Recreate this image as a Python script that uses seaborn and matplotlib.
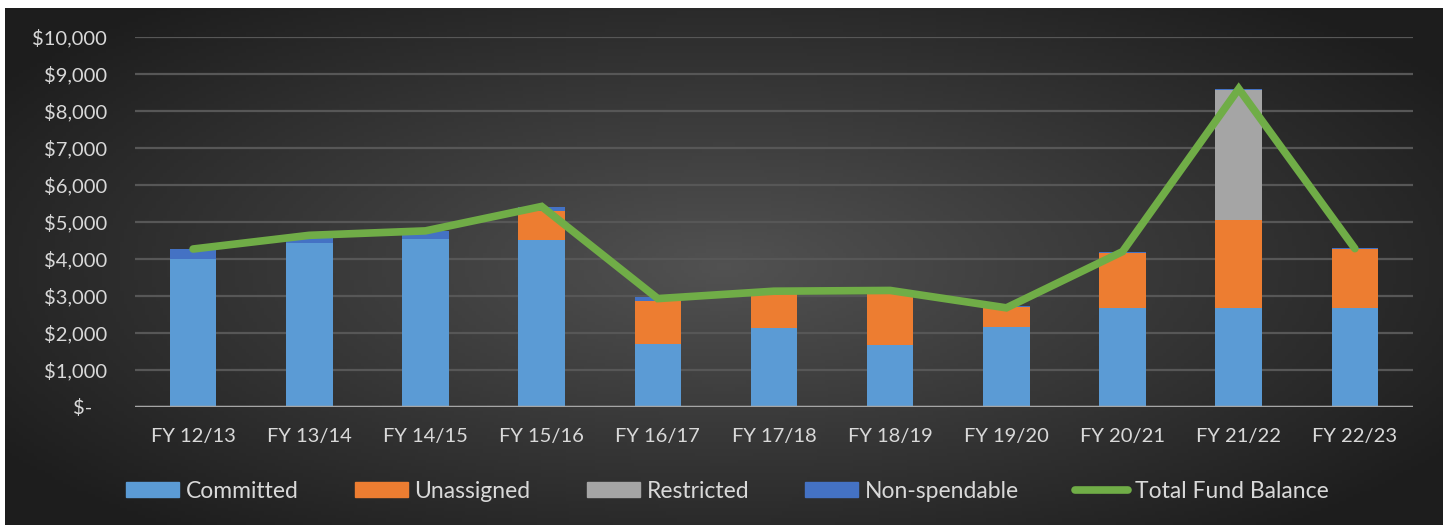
import seaborn as sns
import matplotlib.pyplot as plt
import matplotlib.patches as mpatches
import matplotlib.lines as mlines
import pandas as pd
import numpy as np

# Fund balance components (thousands of $)
years = ['FY 12/13', 'FY 13/14', 'FY 14/15', 'FY 15/16', 'FY 16/17', 'FY 17/18',
         'FY 18/19', 'FY 19/20', 'FY 20/21', 'FY 21/22', 'FY 22/23']
committed = [4000, 4440, 4540, 4510, 1700, 2140, 1670, 2160, 2680, 2680, 2680]
unassigned = [0, 0, 0, 790, 1160, 960, 1460, 530, 1470, 2370, 1590]
restricted = [0, 0, 0, 0, 0, 0, 0, 0, 0, 3520, 0]
non_spendable = [270, 200, 220, 100, 100, 20, 20, 30, 30, 20, 20]
total = [4270, 4640, 4760, 5420, 2930, 3130, 3150, 2680, 4200, 8600, 4280]
y_ticks = [0, 1000, 2000, 3000, 4000, 5000, 6000, 7000, 8000, 9000, 10000]
y_labels = ['$-   ', '$1,000', '$2,000', '$3,000', '$4,000', '$5,000',
            '$6,000', '$7,000', '$8,000', '$9,000', '$10,000']

colors = {'Committed': '#5b9bd5', 'Unassigned': '#ed7d31',
          'Restricted': '#a5a5a5', 'Non-spendable': '#4472c4'}
line_color = '#70ad47'
text_color = '#d9d9d9'

df = pd.DataFrame({'Year': years, 'Committed': committed, 'Unassigned': unassigned,
                   'Restricted': restricted, 'Non-spendable': non_spendable})
df['c1'] = df['Committed']
df['c2'] = df['c1'] + df['Unassigned']
df['c3'] = df['c2'] + df['Restricted']
df['c4'] = df['c3'] + df['Non-spendable']

sns.set_style("white")
plt.rcParams['font.family'] = ['Lato', 'DejaVu Sans']

fig = plt.figure(figsize=(14.49, 5.25), dpi=100, facecolor='white')

# dark radial-gradient background panel
bg = fig.add_axes([5 / 1449, 0, (1443 - 5) / 1449, (525 - 8) / 525])
gx, gy = np.meshgrid(np.linspace(-1, 1, 400), np.linspace(-1, 1, 150))
r = np.clip(np.sqrt(gx ** 2 + (gy * 0.9) ** 2), 0, 1.2)
shade = 0.32 - 0.17 * r
bg.imshow(np.dstack([shade, shade, shade]), aspect='auto', extent=[0, 1, 0, 1])
bg.set_axis_off()

ax = fig.add_axes([135 / 1449, 1 - 407 / 525, (1413 - 135) / 1449, (407 - 37) / 525])
ax.patch.set_alpha(0)

# stacked bars: draw cumulative totals from the top layer down
for col, name in [('c4', 'Non-spendable'), ('c3', 'Restricted'),
                  ('c2', 'Unassigned'), ('c1', 'Committed')]:
    sns.barplot(data=df, x='Year', y=col, color=colors[name], saturation=1,
                width=0.4, linewidth=0, ax=ax, zorder=3)

sns.lineplot(x=np.arange(len(years)), y=total, color=line_color, linewidth=5.5,
             ax=ax, zorder=5, solid_capstyle='round', solid_joinstyle='miter')

ax.set_xlim(-0.5, len(years) - 0.5)
ax.set_ylim(0, 10000)
ax.set_yticks(y_ticks)
ax.set_yticklabels(y_labels)
ax.set_xlabel('')
ax.set_ylabel('')
ax.tick_params(axis='y', length=0, pad=20, labelsize=14.5, labelcolor=text_color)
ax.tick_params(axis='x', length=0, pad=15, labelsize=14.5, labelcolor=text_color)
ax.grid(axis='y', color='#575757', linewidth=1.6, zorder=0)
ax.set_axisbelow(True)
for s in ax.spines.values():
    s.set_visible(False)
ax.axhline(0, color='#a6a6a6', linewidth=2.5, zorder=4)

handles = [mpatches.Patch(color=colors[k], label=k) for k in
           ['Committed', 'Unassigned', 'Restricted', 'Non-spendable']]
handles.append(mlines.Line2D([], [], color=line_color, linewidth=5.5,
                             solid_capstyle='round', label='Total Fund Balance'))
fig.legend(handles=handles, loc='center', bbox_to_anchor=(0.502, 1 - 491 / 525),
           ncol=5, frameon=False, fontsize=16.5, labelcolor=text_color,
           handlelength=2.3, handleheight=0.65, handletextpad=0.3,
           columnspacing=2.45)

fig.savefig('out.png', dpi=100, facecolor='white')
